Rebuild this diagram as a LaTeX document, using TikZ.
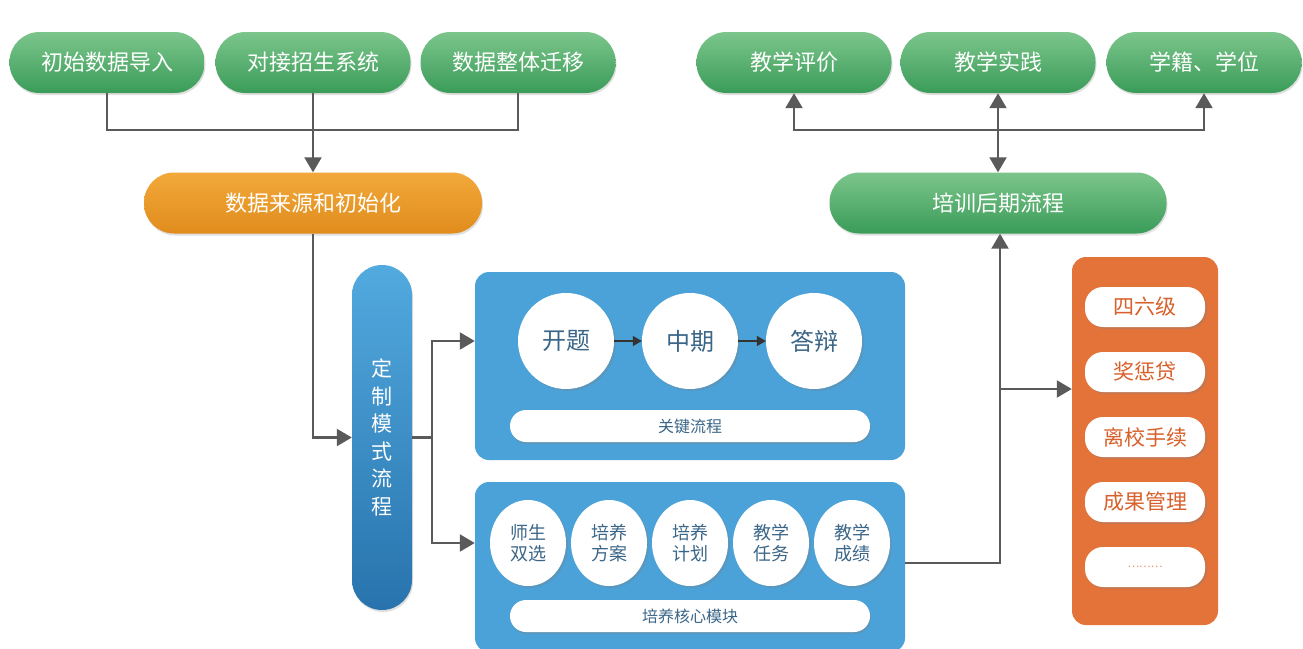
\documentclass[tikz,border=0pt]{standalone}
\usepackage{fontspec}
\setmainfont{Noto Sans CJK SC}
\usetikzlibrary{arrows.meta,shapes.geometric,shadows,calc}
\definecolor{gtop}{HTML}{7CC58C}
\definecolor{gbot}{HTML}{3A9C58}
\definecolor{otop}{HTML}{F2A93A}
\definecolor{obot}{HTML}{E08C1C}
\definecolor{bpanel}{HTML}{4AA2D9}
\definecolor{btop}{HTML}{52AADF}
\definecolor{bbot}{HTML}{2873AD}
\definecolor{opanel}{HTML}{E4733A}
\definecolor{otext}{HTML}{D8602A}
\definecolor{ctext}{HTML}{3B6688}
\definecolor{lgray}{HTML}{5A5A5A}
\tikzset{
  gbtn/.style={rounded corners=30pt, minimum width=195pt, minimum height=61pt, top color=gtop, bottom color=gbot, draw=none, text=white, font=\fontsize{22}{24}\selectfont, drop shadow={opacity=0.25,shadow xshift=1pt,shadow yshift=-2pt}},
  obtn/.style={gbtn, top color=otop, bottom color=obot},
  panel/.style={rounded corners=14pt, fill=bpanel, draw=none, minimum width=430pt},
  bigc/.style={circle, fill=white, minimum size=96pt, text=ctext, font=\fontsize{24}{26}\selectfont, drop shadow={opacity=0.3,shadow xshift=2pt,shadow yshift=-2pt}},
  smallc/.style={ellipse, fill=white, minimum width=76pt, minimum height=86pt, inner sep=0pt, text=ctext, align=center, font=\fontsize{18}{21}\selectfont, drop shadow={opacity=0.3,shadow xshift=2pt,shadow yshift=-2pt}},
  wbar/.style={rounded corners=16pt, fill=white, minimum width=360pt, minimum height=32pt, text=ctext, font=\fontsize{16}{18}\selectfont, drop shadow={opacity=0.35,shadow xshift=1pt,shadow yshift=-2pt}},
  obar/.style={rounded corners=18pt, fill=white, minimum width=120pt, minimum height=40pt, text=otext, font=\fontsize{21}{22}\selectfont, drop shadow={opacity=0.3,shadow xshift=2pt,shadow yshift=-2pt}},
  conn/.style={draw=lgray, line width=2.2pt},
  arr/.style={conn, -{Triangle[length=15pt,width=17pt]}},
  darr/.style={conn, {Triangle[length=15pt,width=17pt]}-{Triangle[length=15pt,width=17pt]}},
  sarr/.style={draw=black!80, line width=1.4pt, -{Triangle[length=9pt,width=10pt]}},
}
\begin{document}
\begin{tikzpicture}[x=1pt,y=-1pt]
\useasboundingbox (0,0) rectangle (1303,648);
\fill[white] (0,0) rectangle (1303,648);

% top-left buttons
\node[gbtn] (b1) at (107,62.5) {初始数据导入};
\node[gbtn] (b2) at (313,62.5) {对接招生系统};
\node[gbtn] (b3) at (518,62.5) {数据整体迁移};
\node[obtn, minimum width=338pt] (src) at (313,203) {数据来源和初始化};

% top-right buttons
\node[gbtn] (t1) at (794,62.5) {教学评价};
\node[gbtn] (t2) at (998,62.5) {教学实践};
\node[gbtn] (t3) at (1204,62.5) {学籍、学位};
\node[gbtn, minimum width=337pt] (post) at (998,203) {培训后期流程};

% vertical bar
\node[rounded corners=30pt, minimum width=60pt, minimum height=345pt, top color=btop, bottom color=bbot, draw=none, text=white, align=center, font=\fontsize{21}{27.5}\selectfont, drop shadow={opacity=0.25,shadow xshift=1pt,shadow yshift=-2pt}] (bar) at (382,437.5) {定\\制\\模\\式\\流\\程};

% blue panels
\node[panel, minimum height=188pt] (p1) at (690,366) {};
\node[panel, minimum height=170pt] (p2) at (690,567) {};

\node[bigc] (k1) at (566,341) {开题};
\node[bigc] (k2) at (690,341) {中期};
\node[bigc] (k3) at (814,341) {答辩};
\node[wbar] (kb) at (690,426) {关键流程};
\draw[sarr] (k1) -- (k2);
\draw[sarr] (k2) -- (k3);

\node[smallc] (m1) at (528,543) {师生\\双选};
\node[smallc] (m2) at (609,543) {培养\\方案};
\node[smallc] (m3) at (690,543) {培养\\计划};
\node[smallc] (m4) at (771,543) {教学\\任务};
\node[smallc] (m5) at (852,543) {教学\\成绩};
\node[wbar] (mb) at (690,616) {培养核心模块};

% orange panel
\node[rounded corners=14pt, fill=opanel, minimum width=146pt, minimum height=368pt] (op) at (1145,441) {};
\node[obar] (o1) at (1145,307) {四六级};
\node[obar] (o2) at (1145,372) {奖惩贷};
\node[obar] (o3) at (1145,437) {离校手续};
\node[obar] (o4) at (1145,502) {成果管理};
\node[obar, text=otext!70, font=\fontsize{11}{12}\selectfont] (o5) at (1145,567) {………};

% connectors left
\coordinate (j1) at (313,130);
\draw[conn] (b1.south) |- (j1) -| (b3.south);
\draw[arr] (b2.south) -- (src.north);
\draw[arr] (src.south) |- (bar.west);
\coordinate (sp) at (432,437.5);
\draw[conn] (bar.east) -- (sp);
\draw[arr] (sp) |- (p1.west |- k1);
\draw[arr] (sp) |- (p2.west |- m1);

% connectors right
\coordinate (j2) at (998,130);
\coordinate (rv) at (1000,563);
\coordinate (ro) at (1000,389);
\draw[arr] (p2.east |- rv) -- (rv) -- (rv |- post.south);
\draw[arr] (ro) -- (op.west |- ro);
\draw[arr] (j2) -| (t1.south);
\draw[arr] (j2) -| (t3.south);
\draw[darr] (t2.south) -- (post.north);
\end{tikzpicture}
\end{document}
